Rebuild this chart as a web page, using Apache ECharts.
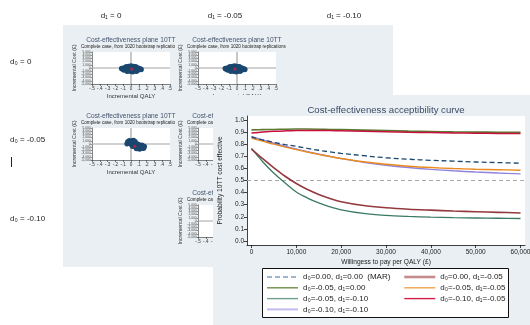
<!DOCTYPE html>
<html>
<head>
<meta charset="utf-8">
<script src="https://cdn.jsdelivr.net/npm/echarts@6/dist/echarts.min.js"></script>
<style>
  html, body { margin: 0; padding: 0; background: #fff; }
  #chart { width: 530px; height: 325px; }
</style>
</head>
<body>
<div id="chart"></div>
<script>
// ---- Acceptability curve data ----
const wtp = [0, 2500, 5000, 7500, 10000, 12500, 15000, 17500, 20000, 25000, 30000, 35000, 40000, 45000, 50000, 55000, 60000];
const mar_0_0      = [0.860, 0.835, 0.815, 0.797, 0.782, 0.765, 0.750, 0.736, 0.724, 0.705, 0.688, 0.676, 0.667, 0.660, 0.653, 0.648, 0.643];
const d0_0_d1_05   = [0.760, 0.680, 0.605, 0.535, 0.475, 0.425, 0.385, 0.352, 0.325, 0.293, 0.275, 0.263, 0.255, 0.248, 0.242, 0.237, 0.232];
const d0_05_d1_0   = [0.918, 0.920, 0.922, 0.924, 0.925, 0.925, 0.924, 0.922, 0.920, 0.916, 0.912, 0.908, 0.905, 0.902, 0.900, 0.899, 0.898];
const d0_05_d1_05  = [0.850, 0.825, 0.800, 0.777, 0.755, 0.735, 0.716, 0.698, 0.682, 0.655, 0.634, 0.618, 0.607, 0.599, 0.593, 0.589, 0.585];
const d0_05_d1_10  = [0.765, 0.655, 0.560, 0.480, 0.405, 0.355, 0.315, 0.283, 0.258, 0.228, 0.212, 0.203, 0.197, 0.193, 0.190, 0.188, 0.186];
const d0_10_d1_05  = [0.893, 0.900, 0.906, 0.910, 0.913, 0.914, 0.914, 0.913, 0.911, 0.907, 0.903, 0.899, 0.896, 0.893, 0.891, 0.889, 0.888];
const d0_10_d1_10  = [0.865, 0.835, 0.808, 0.783, 0.760, 0.738, 0.718, 0.699, 0.681, 0.650, 0.626, 0.607, 0.592, 0.580, 0.570, 0.562, 0.555];
const refProb = 0.5;

const curveNames = [
  'd₀=0.00, d₁=0.00  (MAR)',
  'd₀=0.00, d₁=-0.05',
  'd₀=-0.05, d₁=0.00',
  'd₀=-0.05, d₁=-0.05',
  'd₀=-0.05, d₁=-0.10',
  'd₀=-0.10, d₁=-0.05',
  'd₀=-0.10, d₁=-0.10'
];
const xTicks = [0, 10000, 20000, 30000, 40000, 50000, 60000];
const yTicks = [0, 0.1, 0.2, 0.3, 0.4, 0.5, 0.6, 0.7, 0.8, 0.9, 1.0];

// ---- Cost-effectiveness planes: bootstrap clouds (QALY, cost) ----
const planeA = [[-0.06,400],[-0.03,450],[0.0,420],[0.03,430],[0.06,380],[0.0,650],
  [-0.09,0],[-0.06,20],[-0.03,0],[0.0,10],[0.03,0],[0.06,-20],[0.09,0],
  [-0.12,-150],[-0.11,-300],[-0.08,-300],[0.10,-300],[0.12,-350],[0.13,-500],
  [-0.09,-600],[-0.05,-620],[0.0,-600],[0.05,-600],[0.09,-650],
  [-0.05,-1000],[-0.01,-1020],[0.03,-1000],[0.07,-980],[0.02,-1150]];
const planeAMean = [0.01, -300];
const planeB = [[-0.09,400],[-0.06,450],[-0.03,420],[0.0,430],[0.03,380],[-0.03,650],
  [-0.12,0],[-0.09,20],[-0.06,0],[-0.03,10],[0.0,0],[0.03,-20],[0.06,0],
  [-0.15,-150],[-0.14,-300],[-0.11,-300],[0.07,-300],[0.09,-350],[0.10,-500],
  [-0.12,-600],[-0.08,-620],[-0.03,-600],[0.02,-600],[0.06,-650],
  [-0.08,-1000],[-0.04,-1020],[0.0,-1000],[0.04,-980],[-0.01,-1150]];
const planeBMean = [-0.025, -300];
const planeC = [[-0.04,700],[-0.02,1000],[-0.03,300],[0.0,800],[0.0,200],[0.01,-200],
  [0.02,500],[0.03,1100],[0.03,-100],[0.04,-600],[0.05,300],[0.06,-300],
  [0.07,-900],[0.08,0],[0.09,-500],[0.10,-1100],[0.10,-200],[0.12,-700],
  [0.13,-1300],[0.14,-400],[0.15,-900],[0.16,-1300],[0.17,-800],[0.07,-1400],
  [0.11,-1600],[-0.05,100],[0.05,800],[0.02,-700],[0.09,-1300]];
const planeCMean = [0.05, -700];

const FONT = '"Liberation Sans", Arial, sans-serif';
const NAVY = '#1a476f';

const chart = echarts.init(document.getElementById('chart'), null, { renderer: 'canvas' });

// Plane layout: [left, top] of each plotting box
const planes = [
  { box: [92, 52],  pts: planeA, mean: planeAMean },
  { box: [198, 52], pts: planeB, mean: planeBMean },
  { box: [92, 128], pts: planeC, mean: planeCMean },
  { box: [198, 128], pts: [], mean: null },
  { box: [198, 205], pts: [], mean: null }
];
const PW = 78, PH = 32;

const grids = [];
const xAxes = [];
const yAxes = [];
const series = [];
const graphics = [];

// Panel backgrounds
graphics.push({ type: 'rect', z: -10, shape: { x: 63, y: 25, width: 330, height: 242 }, style: { fill: '#e9eff2' }, silent: true });
graphics.push({ type: 'rect', z: 10, shape: { x: 213, y: 95, width: 317, height: 230 }, style: { fill: '#e9eff2' }, silent: true });

// Row / column headings
const heads = [
  ['d₁ = 0', 111, 16], ['d₁ = -0.05', 225, 16], ['d₁ = -0.10', 344, 16],
];
heads.forEach(h => graphics.push({ type: 'text', z: 20, x: h[1], y: h[2], style: { text: h[0], font: '8px ' + FONT, fill: '#222', align: 'center', verticalAlign: 'middle' } }));
const rowHeads = [['d₀ = 0', 10, 62], ['d₀ = -0.05', 10, 140], ['d₀ = -0.10', 10, 219]];
rowHeads.forEach(h => graphics.push({ type: 'text', z: 20, x: h[1], y: h[2], style: { text: h[0], font: '8px ' + FONT, fill: '#222', align: 'left', verticalAlign: 'middle' } }));
graphics.push({ type: 'line', z: 20, shape: { x1: 11.5, y1: 157, x2: 11.5, y2: 167 }, style: { stroke: '#222', lineWidth: 1 } });

const qalyFmt = v => {
  if (Math.abs(v) < 1e-9) return '0';
  const s = Math.abs(v).toFixed(1).replace(/^0/, '');
  return (v < 0 ? '-' : '') + s;
};

planes.forEach((p, i) => {
  const gi = i + 1;
  const [l, t] = p.box;
  grids.push({ left: l, top: t, width: PW, height: PH, show: true, backgroundColor: '#fff', borderWidth: 0, z: 1, outerBoundsMode: 'none' });
  xAxes.push({
    gridIndex: gi, type: 'value', min: -0.5, max: 0.5, interval: 0.1, z: 2,
    axisLine: { show: true, onZero: false, lineStyle: { color: '#333', width: 0.6 } },
    axisTick: { show: true, length: 2, lineStyle: { color: '#333', width: 0.6 } },
    axisLabel: { fontSize: 4.6, margin: 2, color: '#333', formatter: qalyFmt, fontFamily: FONT },
    splitLine: { show: false },
    name: 'Incremental QALY', nameLocation: 'middle', nameGap: 9,
    nameTextStyle: { fontSize: 6, color: '#333', fontFamily: FONT }
  });
  yAxes.push({
    gridIndex: gi, type: 'value', min: -5000, max: 5000, interval: 1000, z: 2,
    axisLine: { show: true, onZero: false, lineStyle: { color: '#333', width: 0.6 } },
    axisTick: { show: true, length: 1.5, lineStyle: { color: '#333', width: 0.5 } },
    axisLabel: { fontSize: 3.2, margin: 1.5, color: '#444', fontFamily: FONT },
    splitLine: { show: false },
    name: 'Incremental Cost (£)', nameLocation: 'middle', nameRotate: 90, nameGap: 12,
    nameTextStyle: { fontSize: 5.2, color: '#333', fontFamily: FONT }
  });
  // zero reference lines
  series.push({ type: 'line', xAxisIndex: gi, yAxisIndex: gi, data: [[-0.5, 0], [0.5, 0]], symbol: 'none', silent: true, z: 3,
    lineStyle: { color: '#a3a3a3', width: 1.2 }, animation: false });
  series.push({ type: 'line', xAxisIndex: gi, yAxisIndex: gi, data: [[0, -5000], [0, 5000]], symbol: 'none', silent: true, z: 3,
    lineStyle: { color: '#a3a3a3', width: 1.2 }, animation: false });
  if (p.pts.length) {
    series.push({ type: 'scatter', xAxisIndex: gi, yAxisIndex: gi, data: p.pts, symbolSize: 5.5, silent: true, z: 4,
      itemStyle: { color: NAVY, opacity: 1 }, animation: false });
  }
  if (p.mean) {
    series.push({ type: 'scatter', xAxisIndex: gi, yAxisIndex: gi, data: [p.mean], symbolSize: 3, silent: true, z: 5,
      itemStyle: { color: '#d6203a' }, animation: false });
  }
  const cx = l + PW / 2;
  graphics.push({ type: 'text', z: 3, x: cx, y: t - 12, style: { text: 'Cost-effectiveness plane 10TT', font: '6.6px ' + FONT, fill: '#44536e', align: 'center', verticalAlign: 'middle' } });
  const sub = { type: 'text', z: 3, x: l - 11, y: t - 5, style: { text: 'Complete case, from 1020 bootstrap replications', font: '4.6px ' + FONT, fill: '#222', align: 'left', verticalAlign: 'middle' } };
  if (l < 150) { sub.style.width = 97; sub.style.overflow = 'truncate'; sub.style.ellipsis = ''; }
  graphics.push(sub);
});

// ---- Acceptability curve panel ----
grids.unshift({ left: 247, top: 116, width: 278, height: 129, show: true, backgroundColor: '#fff', borderWidth: 0, z: 11, outerBoundsMode: 'none' });
xAxes.unshift({
  gridIndex: 0, type: 'value', min: -1000, max: 61000, z: 12,
  axisLine: { show: true, onZero: false, lineStyle: { color: '#111', width: 0.8 } },
  axisTick: { show: true, length: 3, customValues: xTicks, lineStyle: { color: '#111', width: 0.8 } },
  axisLabel: { customValues: xTicks, fontSize: 6.5, margin: 4, color: '#222', fontFamily: FONT,
    formatter: v => v.toLocaleString('en-US') },
  splitLine: { show: false },
  name: 'Willingess to pay per QALY (£)', nameLocation: 'middle', nameGap: 14,
  nameTextStyle: { fontSize: 6.6, color: '#222', fontFamily: FONT }
});
yAxes.unshift({
  gridIndex: 0, type: 'value', min: -0.033, max: 1.033, z: 12,
  axisLine: { show: true, onZero: false, lineStyle: { color: '#111', width: 0.8 } },
  axisTick: { show: true, length: 3, customValues: yTicks, lineStyle: { color: '#111', width: 0.8 } },
  axisLabel: { customValues: yTicks, fontSize: 6.5, margin: 3, color: '#222', fontFamily: FONT,
    formatter: v => v.toFixed(1) },
  splitLine: { show: false },
  name: 'Probability 10TT cost effective', nameLocation: 'middle', nameRotate: 90, nameGap: 17,
  nameTextStyle: { fontSize: 6.6, color: '#222', fontFamily: FONT }
});

const curveVals = [mar_0_0, d0_0_d1_05, d0_05_d1_0, d0_05_d1_05, d0_05_d1_10, d0_10_d1_05, d0_10_d1_10];
const plotStyles = [
  { color: '#1a476f', width: 1.3, type: [5, 3] },
  { color: '#943a3f', width: 1.6, type: 'solid' },
  { color: '#5a7a32', width: 1.6, type: 'solid' },
  { color: '#ea8a1e', width: 1.4, type: 'solid' },
  { color: '#3a7a62', width: 1.3, type: 'solid' },
  { color: '#c8103c', width: 1.5, type: 'solid' },
  { color: '#8f84dc', width: 1.4, type: 'solid' }
];
const legendStyles = [
  { color: '#7f9dc2', width: 1.6, type: [5, 3] },
  { color: '#c58c8e', width: 2.6, type: 'solid' },
  { color: '#6e8d48', width: 1.4, type: 'solid' },
  { color: '#f2a24a', width: 1.4, type: 'solid' },
  { color: '#6f9e8c', width: 1.4, type: 'solid' },
  { color: '#d41e4a', width: 1.4, type: 'solid' },
  { color: '#c2bbf0', width: 2, type: 'solid' }
];

const ceacSeries = [];
ceacSeries.push({ type: 'line', name: 'ref', xAxisIndex: 0, yAxisIndex: 0, data: [[-1000, refProb], [61000, refProb]],
  symbol: 'none', silent: true, z: 13, lineStyle: { color: '#a8a8a8', width: 1, type: [4, 3] }, animation: false });
// draw order: bottom curves first, then top ones
const drawOrder = [4, 1, 6, 3, 0, 2, 5];
drawOrder.forEach(k => {
  ceacSeries.push({
    type: 'line', name: curveNames[k], xAxisIndex: 0, yAxisIndex: 0,
    data: wtp.map((w, i) => [w, curveVals[k][i]]),
    smooth: 0.35, symbol: 'none', showSymbol: false, z: 14, animation: false,
    lineStyle: plotStyles[k], itemStyle: { color: plotStyles[k].color }
  });
});

const allSeries = ceacSeries.concat(series);

// legend keys: line only, symbol made invisible
const legendItem = k => ({
  name: curveNames[k],
  lineStyle: legendStyles[k],
  itemStyle: { color: 'rgba(0,0,0,0)', borderColor: 'rgba(0,0,0,0)', borderWidth: 0 }
});
const legendBase = {
  orient: 'vertical', itemWidth: 31, itemHeight: 8, itemGap: 2.8, padding: 0, z: 16,
  selectedMode: false,
  textStyle: { fontSize: 8, color: '#222', fontFamily: FONT, lineHeight: 8, padding: [0, 0, 0, 0] }
};

graphics.push({ type: 'rect', z: 15, shape: { x: 262.5, y: 268.5, width: 246, height: 49 }, style: { fill: '#fff', stroke: '#111', lineWidth: 1 } });
graphics.push({ type: 'text', z: 16, x: 386, y: 110, style: { text: 'Cost-effectiveness acceptibility curve', font: '9.6px ' + FONT, fill: '#3c4a66', align: 'center', verticalAlign: 'middle' } });

chart.setOption({
  animation: false,
  textStyle: { fontFamily: FONT },
  grid: grids,
  xAxis: xAxes,
  yAxis: yAxes,
  series: allSeries,
  legend: [
    Object.assign({}, legendBase, { left: 266, top: 273, data: [0, 2, 4, 6].map(legendItem) }),
    Object.assign({}, legendBase, { left: 403, top: 273, data: [1, 3, 5].map(legendItem) })
  ],
  graphic: { elements: graphics }
});
</script>
</body>
</html>
